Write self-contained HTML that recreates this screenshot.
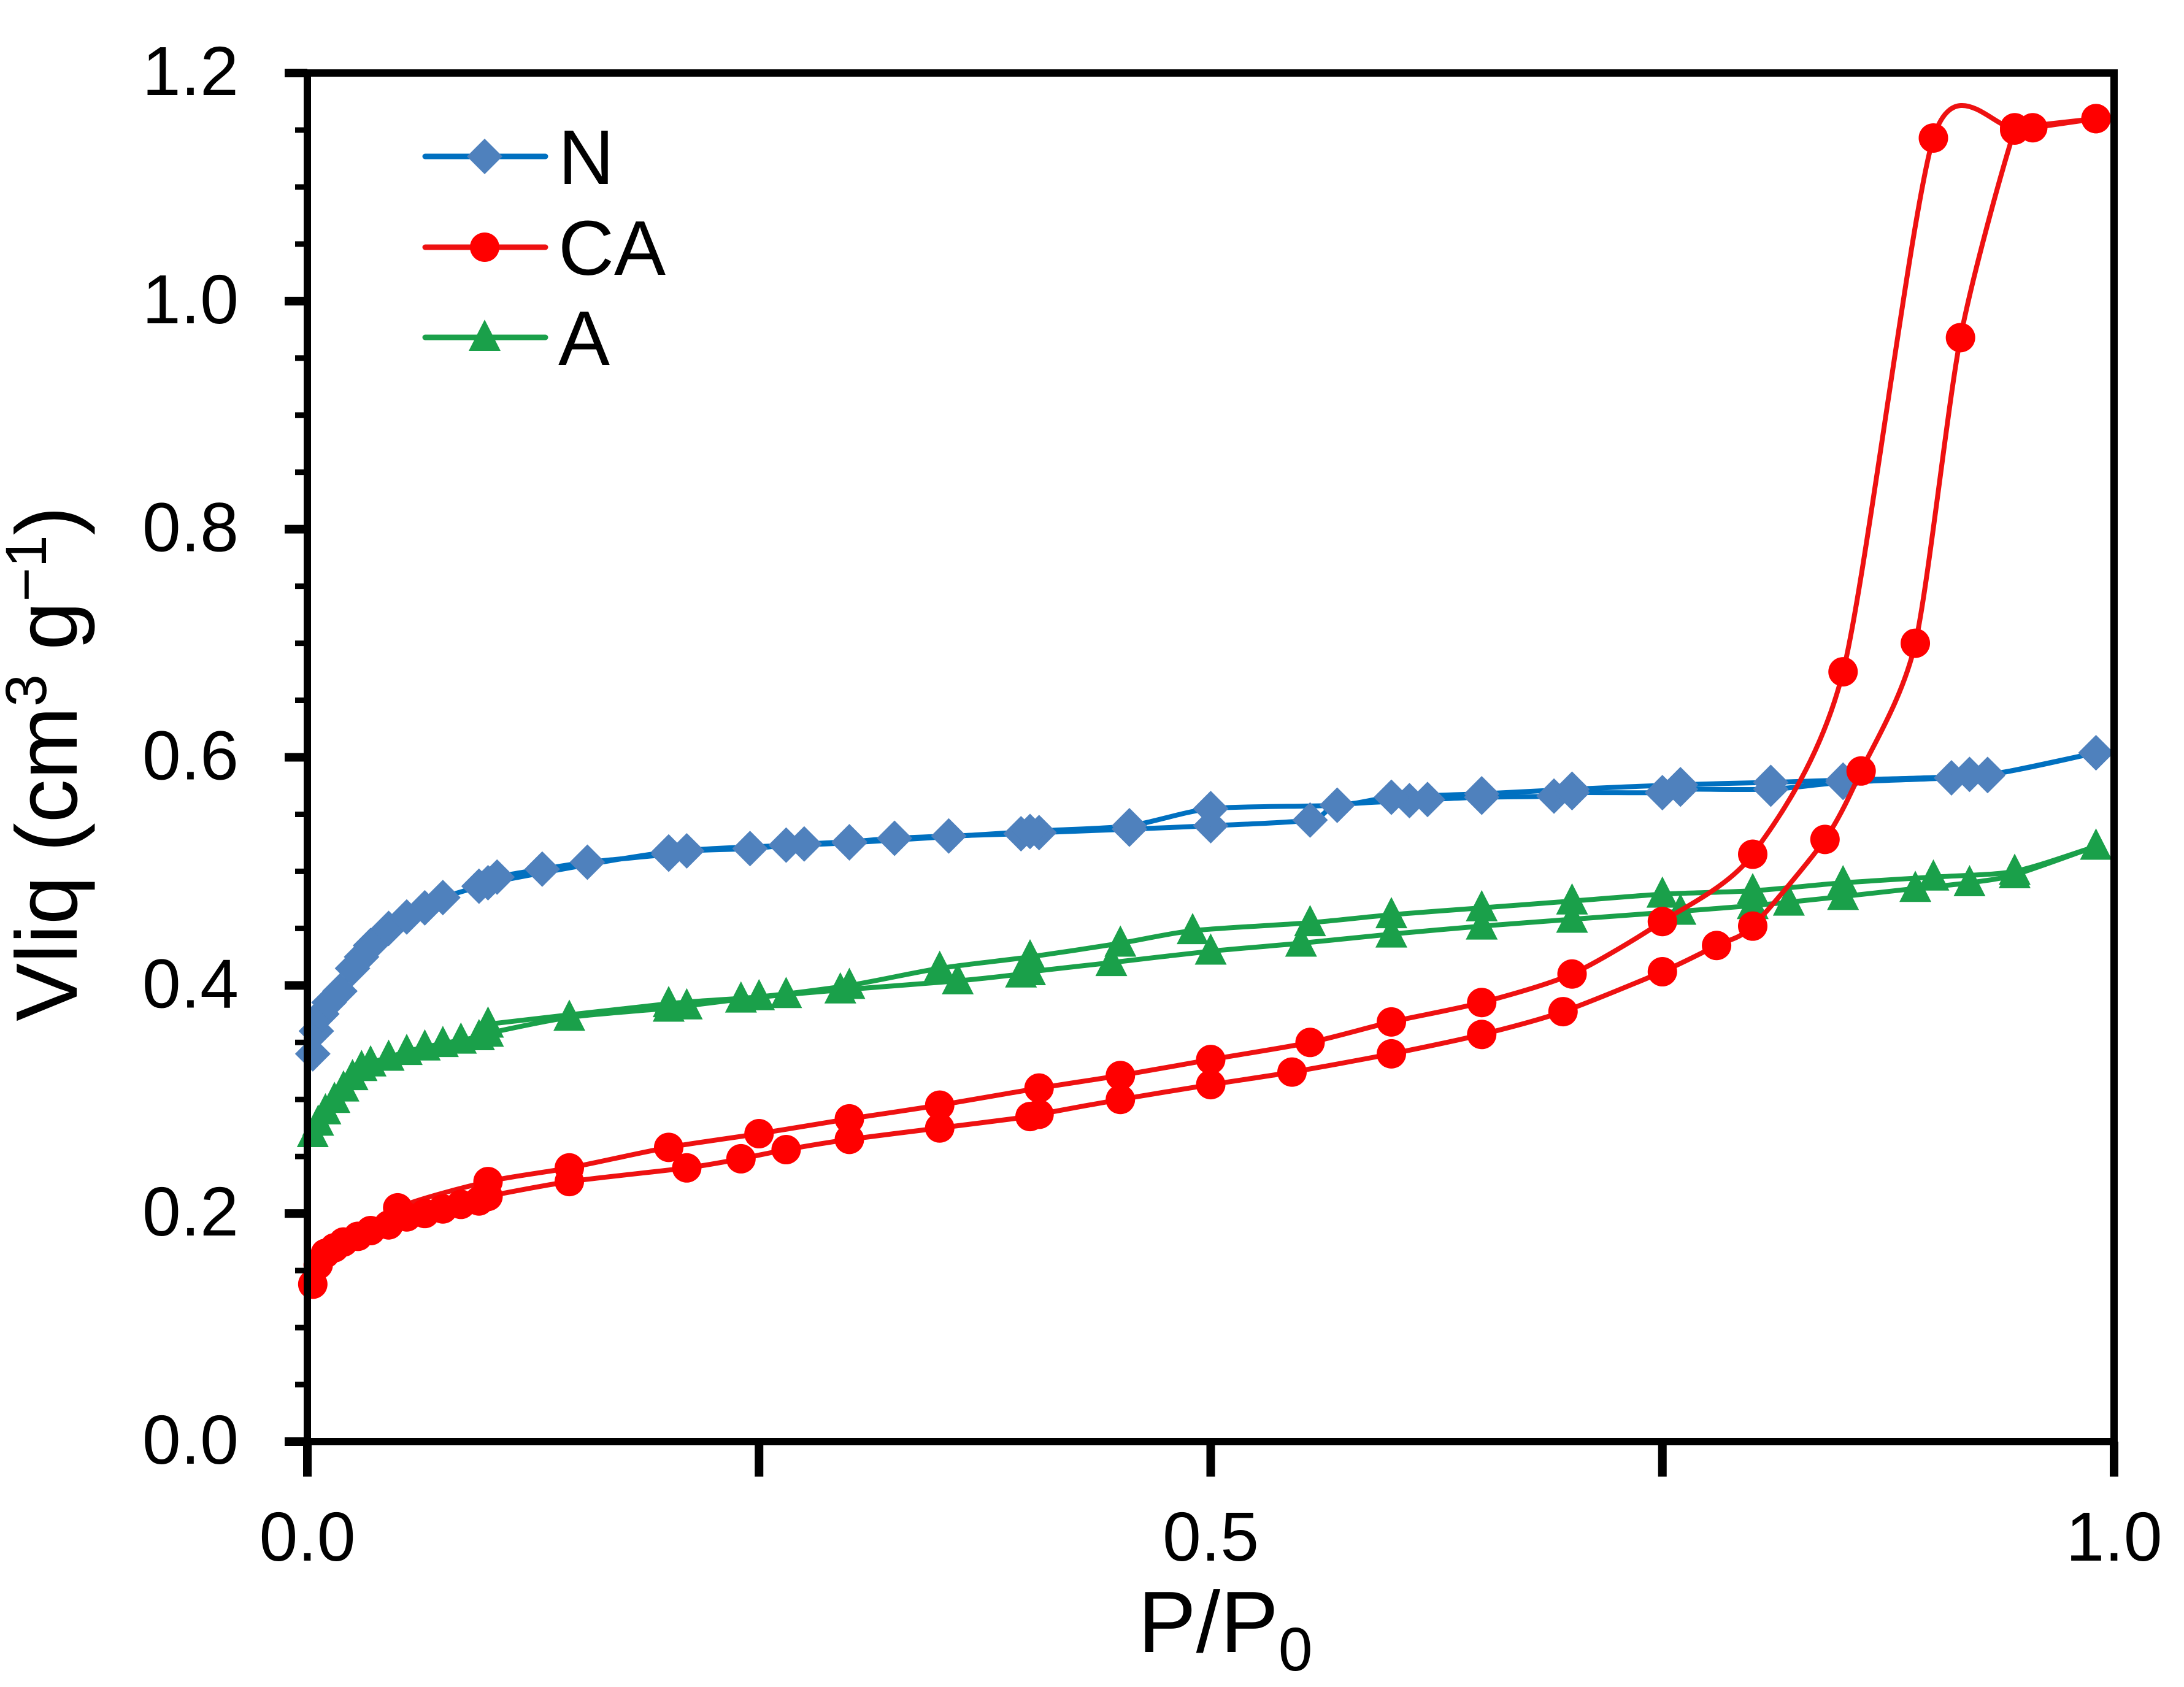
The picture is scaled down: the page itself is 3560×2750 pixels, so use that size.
<!DOCTYPE html>
<html><head><meta charset="utf-8"><style>
html,body{margin:0;padding:0;background:#fff}
svg{display:block}
text{font-family:"Liberation Sans",sans-serif;fill:#000}
</style></head><body>
<svg id="chart" width="3560" height="2750" viewBox="0 0 3560 2750" xmlns="http://www.w3.org/2000/svg">
<g id="plot"></g>
<g id="axes"></g>
<text transform="translate(125,1245) rotate(-90)" text-anchor="middle" font-size="142">Vliq (cm<tspan font-size="95" dy="-50">3</tspan><tspan dy="50"> g</tspan><tspan font-size="95" dy="-50">−1</tspan><tspan dy="50">)</tspan></text>
<text x="1855" y="2693" font-size="142">P/P<tspan font-size="100" dy="30">0</tspan></text>
<g id="legend"></g>
</svg>
<script>
const xTicks=[0,0.25,0.5,0.75,1.0];
const xTickLabels=["0.0","","0.5","","1.0"];
const yTicks=[0,0.2,0.4,0.6,0.8,1.0,1.2];
const yTickLabels=["0.0","0.2","0.4","0.6","0.8","1.0","1.2"];
const seriesNames=["N","CA","A"];
const nAdsX=[0.003,0.005,0.008,0.012,0.018,0.025,0.03,0.035,0.045,0.055,0.065,0.075,0.095,0.105,0.13,0.155,0.2,0.21,0.245,0.265,0.275,0.3,0.325,0.355,0.395,0.405,0.455,0.5,0.555,0.57,0.61,0.62,0.65,0.69,0.7,0.75,0.76,0.81,0.85,0.91,0.92,0.93,0.99];
const nAdsY=[0.34,0.36,0.375,0.385,0.395,0.415,0.425,0.435,0.45,0.46,0.468,0.477,0.487,0.495,0.502,0.508,0.515,0.518,0.52,0.523,0.524,0.526,0.529,0.531,0.533,0.534,0.537,0.54,0.545,0.558,0.562,0.563,0.565,0.566,0.569,0.569,0.572,0.572,0.578,0.582,0.585,0.584,0.604];
const nDesX=[0.99,0.93,0.85,0.81,0.76,0.7,0.65,0.6,0.57,0.5,0.455,0.4,0.3,0.2,0.1];
const nDesY=[0.604,0.585,0.58,0.578,0.576,0.572,0.568,0.565,0.558,0.555,0.54,0.535,0.525,0.517,0.49];
const caAdsX=[0.003,0.006,0.01,0.015,0.02,0.028,0.035,0.045,0.055,0.065,0.075,0.085,0.095,0.1,0.145,0.21,0.24,0.265,0.3,0.35,0.4,0.405,0.45,0.5,0.545,0.6,0.65,0.695,0.75,0.78,0.8,0.84,0.86,0.89,0.915,0.945,0.955,0.99];
const caAdsY=[0.138,0.155,0.165,0.17,0.175,0.18,0.185,0.19,0.197,0.2,0.204,0.208,0.211,0.215,0.228,0.24,0.248,0.256,0.265,0.275,0.285,0.287,0.3,0.313,0.324,0.34,0.357,0.377,0.412,0.435,0.452,0.528,0.588,0.7,0.968,1.15,1.152,1.16];
const caDesX=[0.99,0.945,0.9,0.85,0.8,0.75,0.7,0.65,0.6,0.555,0.5,0.45,0.405,0.35,0.3,0.25,0.2,0.145,0.1,0.05,0.01];
const caDesY=[1.16,1.152,1.143,0.675,0.515,0.456,0.41,0.385,0.368,0.35,0.335,0.321,0.31,0.295,0.283,0.27,0.258,0.24,0.228,0.205,0.165];
const aAdsX=[0.003,0.006,0.01,0.015,0.02,0.025,0.03,0.035,0.045,0.055,0.065,0.075,0.085,0.095,0.1,0.145,0.2,0.21,0.24,0.265,0.295,0.36,0.395,0.4,0.445,0.5,0.55,0.6,0.65,0.7,0.76,0.8,0.82,0.85,0.89,0.92,0.945,0.99];
const aAdsY=[0.27,0.28,0.29,0.3,0.31,0.32,0.328,0.332,0.337,0.342,0.346,0.349,0.352,0.355,0.358,0.372,0.38,0.382,0.388,0.392,0.396,0.404,0.41,0.412,0.42,0.43,0.437,0.445,0.452,0.458,0.465,0.47,0.473,0.478,0.485,0.49,0.497,0.522];
const aDesX=[0.99,0.945,0.9,0.85,0.8,0.75,0.7,0.65,0.6,0.555,0.49,0.45,0.4,0.35,0.3,0.25,0.2,0.1];
const aDesY=[0.522,0.5,0.495,0.49,0.483,0.48,0.474,0.468,0.462,0.455,0.448,0.437,0.425,0.415,0.4,0.39,0.384,0.366];

const NS="http://www.w3.org/2000/svg";
const X0=501,X1=3446,Y0=2350,Y1=119;
const sx=v=>X0+(X1-X0)*v;
const sy=v=>Y0-(Y0-Y1)*v/1.2;
function mk(tag,attrs,parent){const e=document.createElementNS(NS,tag);for(const k in attrs)e.setAttribute(k,attrs[k]);parent.appendChild(e);return e;}
function smooth(pts){
  let d="M"+pts[0][0]+","+pts[0][1];
  for(let i=0;i<pts.length-1;i++){
    const p0=pts[Math.max(0,i-1)],p1=pts[i],p2=pts[i+1],p3=pts[Math.min(pts.length-1,i+2)];
    const t=1/8;
    const c1=[p1[0]+(p2[0]-p0[0])*t,p1[1]+(p2[1]-p0[1])*t];
    const c2=[p2[0]-(p3[0]-p1[0])*t,p2[1]-(p3[1]-p1[1])*t];
    d+=" C"+c1[0]+","+c1[1]+" "+c2[0]+","+c2[1]+" "+p2[0]+","+p2[1];
  }
  return d;
}
function marker(type,x,y,color,parent){
  let e;
  if(type==="diamond"){e=mk("polygon",{points:`${x},${y-29} ${x+29},${y} ${x},${y+29} ${x-29},${y}`,fill:color},parent);}
  else if(type==="circle"){e=mk("circle",{cx:x,cy:y,r:24,fill:color},parent);}
  else {e=mk("polygon",{points:`${x},${y-29} ${x+26},${y+22} ${x-26},${y+22}`,fill:color},parent);}
  return e;
}
const plot=document.getElementById("plot");
const defs=[
  {name:"n",line:"#0070c0",mc:"#4f81bd",type:"diamond",branches:[[nAdsX,nAdsY],[nDesX,nDesY]]},
  {name:"a",line:"#1aa04a",mc:"#1aa04a",type:"triangle",branches:[[aAdsX,aAdsY],[aDesX,aDesY]]},
  {name:"ca",line:"#ee1111",mc:"#ff0000",type:"circle",branches:[[caAdsX,caAdsY],[caDesX,caDesY]]}
];
defs.forEach(s=>{
  const g=mk("g",{},plot);
  
  
  s.branches.forEach((b,bi)=>{
    const pts=b[0].map((v,i)=>[sx(v),sy(b[1][i])]);
    const p=mk("path",{d:smooth(pts),fill:"none",stroke:s.line,"stroke-width":8,"stroke-linejoin":"round"},g);
    
    
  });
  s.branches.forEach((b,bi)=>{
    b[0].forEach((v,i)=>{
      const m=marker(s.type,sx(v),sy(b[1][i]),s.mc,g);
      
      
    });
  });
});
const ax=document.getElementById("axes");
const frame=mk("rect",{x:X0,y:Y1,width:X1-X0,height:Y0-Y1,fill:"none",stroke:"#000","stroke-width":12},ax);


for(let v=0;v<=1.2001;v+=0.05){
  const major=Math.abs(v*5-Math.round(v*5))<1e-6;
  const t=mk("line",{x1:X0-(major?37:20),x2:X0,y1:sy(v),y2:sy(v),stroke:"#000","stroke-width":major?14:9},ax);
  
  
}
yTicks.forEach((v,i)=>{
  const t=mk("text",{x:389,y:sy(v)+36,"text-anchor":"end","font-size":113},ax);
  t.textContent=yTickLabels[i];
  
  
});
xTicks.forEach((v,i)=>{
  const l=mk("line",{x1:sx(v),x2:sx(v),y1:Y0,y2:Y0+57,stroke:"#000","stroke-width":14},ax);
  
  
  if(xTickLabels[i]){
    const t=mk("text",{x:sx(v),y:2544,"text-anchor":"middle","font-size":113},ax);
    t.textContent=xTickLabels[i];
    
    
  }
});
const lg=document.getElementById("legend");
const leg=[["N","#0070c0","#4f81bd","diamond",255],["CA","#ee1111","#ff0000","circle",403],["A","#1aa04a","#1aa04a","triangle",550]];
leg.forEach((e,i)=>{
  const g=mk("g",{},lg);
  
  
  mk("line",{x1:693,x2:889,y1:e[4],y2:e[4],stroke:e[1],"stroke-width":9,"stroke-linecap":"round"},g);
  marker(e[3],790,e[4],e[2],g);
  const t=mk("text",{x:910,y:e[4]+45,"font-size":126},g);
  t.textContent=seriesNames[i];
});
</script>
</body></html>
